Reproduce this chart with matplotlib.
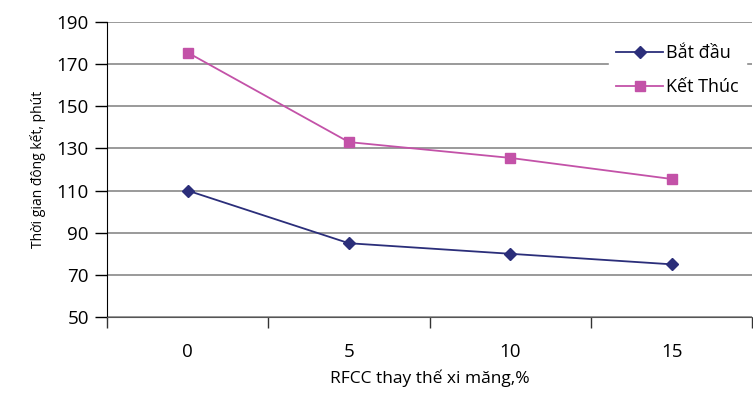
import matplotlib.pyplot as plt

# data
categories = ["0", "5", "10", "15"]
bat_dau = [110, 85, 80, 75]
ket_thuc = [175.5, 133, 125.5, 115.5]
y_ticks = [50, 70, 90, 110, 130, 150, 170, 190]

plt.rcParams['font.family'] = ['Open Sans', 'DejaVu Sans']

fig = plt.figure(figsize=(7.53, 3.96), dpi=100)
ax = fig.add_axes([0.142, 0.1995, 0.857, 0.745])

x = range(len(categories))
ax.plot(x, bat_dau, color="#2b2e7a", lw=1.3, marker="D", ms=6,
        markerfacecolor="#2b2e7a", markeredgecolor="#2b2e7a", label="Bắt đầu", zorder=3)
ax.plot(x, ket_thuc, color="#c352a8", lw=1.3, marker="s", ms=6.5,
        markerfacecolor="#c352a8", markeredgecolor="#c352a8", label="Kết Thúc", zorder=3)

ax.set_xlim(-0.5, len(categories) - 0.5)
ax.set_ylim(50, 190)
ax.set_yticks(y_ticks)
ax.set_yticklabels([str(v) for v in y_ticks], fontsize=13.5)
ax.yaxis.grid(True, color="#7f7f7f", lw=1.1)
ax.set_axisbelow(True)

# category axis: ticks between the categories, labels centred
ax.set_xticks([i - 0.5 for i in range(len(categories) + 1)])
ax.set_xticklabels([])
ax.set_xticks(list(x), minor=True)
ax.set_xticklabels(categories, minor=True, fontsize=13.5)
ax.tick_params(axis="x", which="minor", length=0, pad=19)
ax.tick_params(axis="x", which="major", length=8, width=1, direction="out", colors="#333333")
ax.tick_params(axis="y", length=9, width=1, direction="out", pad=4)

for side in ["top", "right"]:
    ax.spines[side].set_visible(False)
ax.spines["left"].set_color("black")
ax.spines["bottom"].set_color("#555555")

ax.set_xlabel("RFCC thay thế xi măng,%", fontsize=12.5, labelpad=6)
ax.set_ylabel("Thời gian đông kết, phút", fontsize=10, labelpad=8)

leg = ax.legend(loc="upper left", bbox_to_anchor=(0.797, 0.93), bbox_transform=fig.transFigure,
                frameon=True, fancybox=False, fontsize=13, handlelength=2.6, handletextpad=0.15,
                borderpad=0.4, labelspacing=0.9)
leg.get_frame().set_edgecolor("white")
leg.get_frame().set_facecolor("white")
leg.get_frame().set_alpha(1)

fig.savefig("out.png", dpi=100)
